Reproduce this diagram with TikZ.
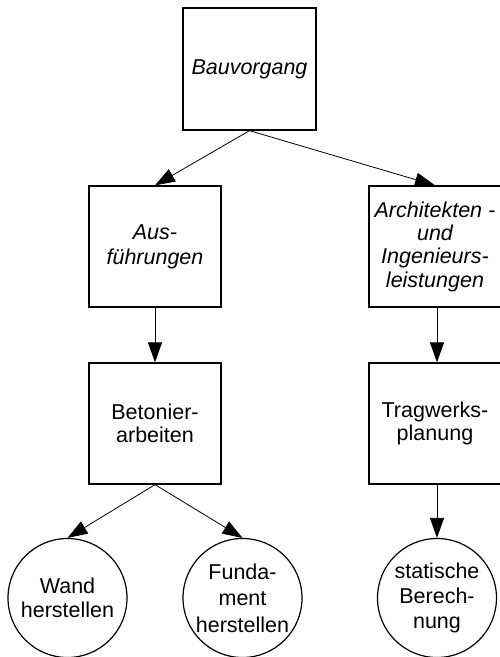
\documentclass[tikz,border=0pt]{standalone}
\usepackage{fontspec}
\setmainfont{Liberation Sans}
\usetikzlibrary{arrows.meta}
\begin{document}
\begin{tikzpicture}[x=1pt,y=-1pt,
  every node/.style={font=\fontsize{21.5}{24}\selectfont, align=center, inner sep=0pt},
  task/.style={draw, line width=1.3pt, minimum width=132pt, minimum height=121pt},
  act/.style={draw, circle, line width=1.2pt, minimum size=119pt},
  link/.style={line width=0.8pt, -{Triangle[length=20pt,width=14pt]}},
  emph/.style={font=\fontsize{21.5}{24}\selectfont\itshape}]
\useasboundingbox (0,0) rectangle (500,657);
\clip (0,0) rectangle (500,657);

% top level
\node[task, emph, minimum width=133pt, minimum height=122pt] (bau) at (249.5,69) {Bauvorgang};

% second level
\node[task, emph, font=\fontsize{21.5}{25}\selectfont\itshape] (aus) at (155,246.5) {Aus-\\führungen};
\node[task, emph, font=\fontsize{21.5}{23.3}\selectfont\itshape] (arch) at (435,246.5) {Architekten -\\und\\Ingenieurs-\\leistungen};

% third level
\node[task, font=\fontsize{21.5}{23.3}\selectfont] (bet) at (155,423.5) {Betonier-\\arbeiten};
\node[task, font=\fontsize{21.5}{23.3}\selectfont] (trag) at (435,423.5) {Tragwerks-\\planung};

% activities
\node[act] (wand) at (67.5,598) {Wand\\herstellen};
\node[act, font=\fontsize{21.5}{26.5}\selectfont] (fund) at (242.5,598) {Funda-\\ment\\herstellen};
\node[act, font=\fontsize{21.5}{25}\selectfont] (stat) at (437,598) {statische\\Berech-\\nung};

% connectors
\draw[link] (bau.south) -- (aus.north);
\draw[link] (bau.south) -- (arch.north);
\draw[link] (aus.south) -- (bet.north);
\draw[link] (arch.south -| stat.center) -- (trag.north -| stat.center);
\draw[link] (bet.south) -- (wand.north);
\draw[link] (bet.south) -- (fund.north);
\draw[link] (trag.south -| stat.center) -- (stat.north);
\end{tikzpicture}
\end{document}
